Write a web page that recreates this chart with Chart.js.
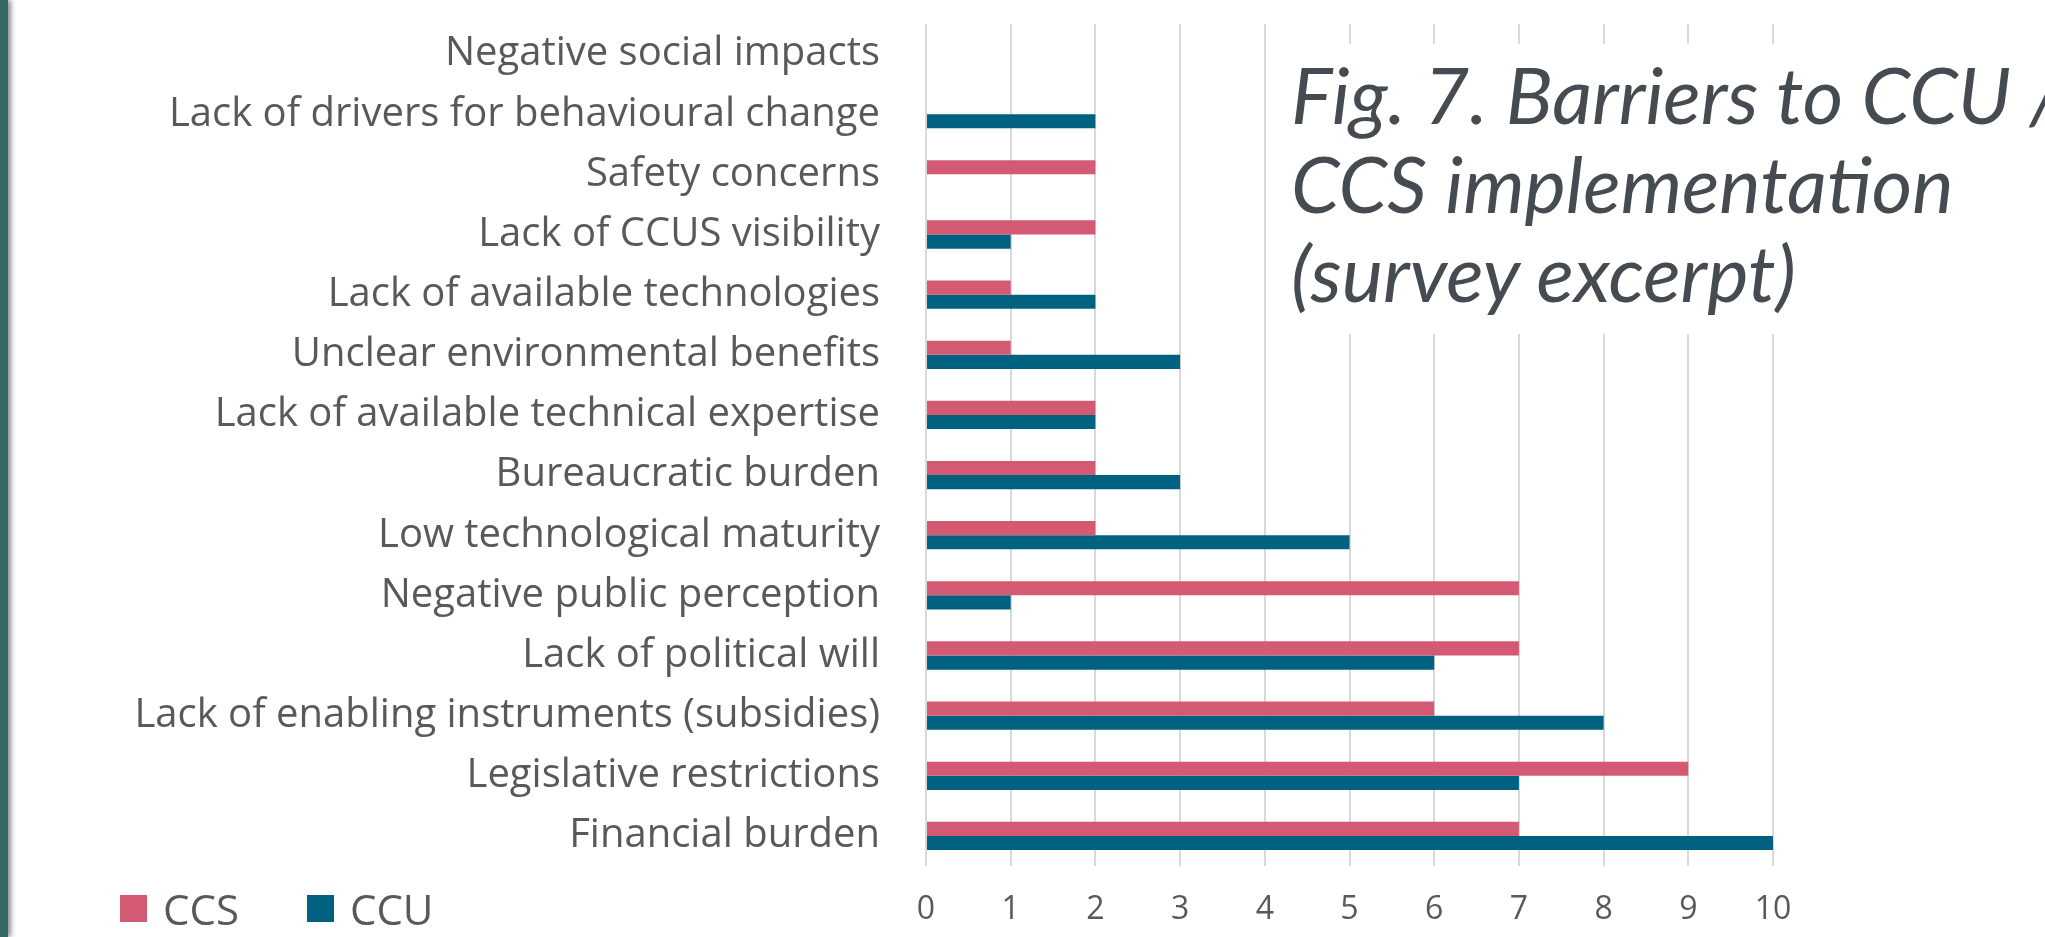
<!DOCTYPE html>
<html lang="en">
<head>
    <meta charset="UTF-8">
    <title>Barriers to CCU / CCS implementation</title>
    <script src="https://cdn.jsdelivr.net/npm/chart.js"></script>
    <style>
        body { margin: 0; background: #fff; overflow: hidden; }
        #wrap { position: relative; width: 2045px; height: 937px; }
        #strip { position: absolute; left: 0; top: 0; width: 8px; height: 937px;
                 background: #336868; box-shadow: 3px 0 5px rgba(0,0,0,0.45); }
        #title { position: absolute; left: 1282px; top: 44px; width: 763px; height: 290px;
                 background: #fff; box-sizing: border-box; padding: 6px 0 0 9px;
                 font-family: Lato, sans-serif; font-style: italic; font-size: 78px;
                 line-height: 89px; color: #454b50; white-space: nowrap; overflow: hidden; }
        #legend { position: absolute; left: 120px; top: 886px; height: 44px;
                  font-family: "Open Sans", sans-serif; font-size: 42px; color: #595959;
                  display: flex; align-items: center; }
        #legend span.box { display: inline-block; width: 27px; height: 27px; margin-right: 16px; }
        #legend span.item { display: flex; align-items: center; margin-right: 68px; }
    </style>
</head>
<body>
<div id="wrap">
    <canvas id="barChart" width="2045" height="937"></canvas>
    <div id="strip"></div>
    <div id="title">Fig. 7. Barriers to CCU /<br>CCS implementation<br>(survey excerpt)</div>
    <div id="legend"></div>
</div>

<script>
    // categories, top to bottom
    var categories = [
        "Negative social impacts",
        "Lack of drivers for behavioural change",
        "Safety concerns",
        "Lack of CCUS visibility",
        "Lack of available technologies",
        "Unclear environmental benefits",
        "Lack of available technical expertise",
        "Bureaucratic burden",
        "Low technological maturity",
        "Negative public perception",
        "Lack of political will",
        "Lack of enabling instruments (subsidies)",
        "Legislative restrictions",
        "Financial burden"
    ];
    var ccsValues = [0, 0, 2, 2, 1, 1, 2, 2, 2, 7, 7, 6, 9, 7];
    var ccuValues = [0, 2, 0, 1, 2, 3, 2, 3, 5, 1, 6, 8, 7, 10];

    var seriesNames = ["CCS", "CCU"];
    var seriesColors = ["#d45a73", "#006180"];

    // x axis range / tick step
    var xMin = 0;
    var xMax = 10;
    var xStep = 1;

    // simple html legend
    var legendEl = document.getElementById("legend");
    seriesNames.forEach(function(name, i) {
        var item = document.createElement("span");
        item.className = "item";
        var box = document.createElement("span");
        box.className = "box";
        box.style.background = seriesColors[i];
        item.appendChild(box);
        item.appendChild(document.createTextNode(name));
        legendEl.appendChild(item);
    });

    function drawChart() {
        var ctx = document.getElementById("barChart").getContext("2d");
        new Chart(ctx, {
            type: "bar",
            data: {
                labels: categories,
                datasets: [{
                    label: seriesNames[0],
                    data: ccsValues,
                    backgroundColor: seriesColors[0],
                    borderWidth: 0
                }, {
                    label: seriesNames[1],
                    data: ccuValues,
                    backgroundColor: seriesColors[1],
                    borderWidth: 0
                }]
            },
            options: {
                indexAxis: "y",
                responsive: false,
                animation: false,
                categoryPercentage: 0.47,
                barPercentage: 1.0,
                layout: { padding: { top: 24, right: 272, left: 0, bottom: 0 } },
                plugins: {
                    legend: { display: false },
                    tooltip: { enabled: false }
                },
                scales: {
                    x: {
                        min: xMin,
                        max: xMax,
                        border: { display: false },
                        grid: { color: "#d9d9d9", lineWidth: 2, drawTicks: false },
                        ticks: {
                            stepSize: xStep,
                            color: "#595959",
                            padding: 25,
                            font: { family: "'Open Sans'", size: 32 }
                        },
                        afterFit: function(scale) { scale.height = 71; }
                    },
                    y: {
                        border: { display: false },
                        grid: { display: false },
                        ticks: {
                            color: "#595959",
                            padding: 38,
                            autoSkip: false,
                            font: { family: "'Open Sans'", size: 40 }
                        },
                        afterFit: function(scale) {
                            // fixed label column; labels sit in band centres so no extra top/bottom room
                            scale.width = 926;
                            scale.paddingTop = 0;
                            scale.paddingBottom = 0;
                        }
                    }
                }
            }
        });
    }

    Promise.all([
        document.fonts.load('40px "Open Sans"'),
        document.fonts.load('italic 78px Lato')
    ]).then(drawChart, drawChart);
</script>
</body>
</html>
